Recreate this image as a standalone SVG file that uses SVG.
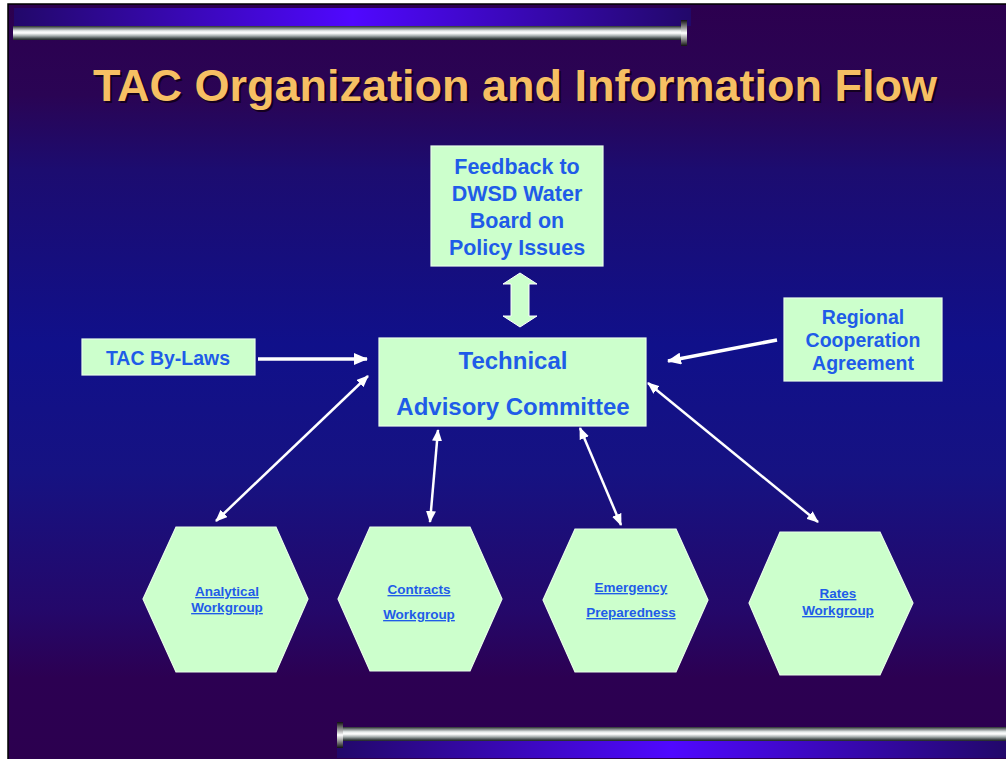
<svg xmlns="http://www.w3.org/2000/svg" width="1006" height="759" viewBox="0 0 1006 759">
<defs>
<linearGradient id="bg" x1="0" y1="0" x2="0" y2="1">
<stop offset="0" stop-color="#2c004f"/>
<stop offset="0.12" stop-color="#2a0454"/>
<stop offset="0.22" stop-color="#1c0c70"/>
<stop offset="0.45" stop-color="#10108a"/>
<stop offset="0.62" stop-color="#161282"/>
<stop offset="0.80" stop-color="#24086a"/>
<stop offset="0.89" stop-color="#2c0052"/>
<stop offset="1" stop-color="#2c004f"/>
</linearGradient>
<linearGradient id="glow" x1="0" y1="0" x2="1" y2="0">
<stop offset="0" stop-color="#22086a"/>
<stop offset="0.5" stop-color="#5008ff"/>
<stop offset="1" stop-color="#22086a"/>
</linearGradient>
<linearGradient id="bar" x1="0" y1="0" x2="0" y2="1">
<stop offset="0" stop-color="#2a3030"/>
<stop offset="0.15" stop-color="#7a8282"/>
<stop offset="0.35" stop-color="#e8ecec"/>
<stop offset="0.5" stop-color="#ffffff"/>
<stop offset="0.7" stop-color="#a8b0b0"/>
<stop offset="0.88" stop-color="#4a5252"/>
<stop offset="1" stop-color="#1e2424"/>
</linearGradient>
<linearGradient id="cap" x1="0" y1="0" x2="0" y2="1">
<stop offset="0" stop-color="#111"/>
<stop offset="0.3" stop-color="#999"/>
<stop offset="0.5" stop-color="#fff"/>
<stop offset="0.75" stop-color="#888"/>
<stop offset="1" stop-color="#111"/>
</linearGradient>
<marker id="ah" markerUnits="userSpaceOnUse" markerWidth="14" markerHeight="12" viewBox="0 0 14 12" refX="13" refY="6" orient="auto-start-reverse">
<path d="M0,0 L14,6 L0,12 Z" fill="#ffffff"/>
</marker>
<marker id="ahs" markerUnits="userSpaceOnUse" markerWidth="12" markerHeight="10" viewBox="0 0 12 10" refX="11" refY="5" orient="auto-start-reverse">
<path d="M0,0 L12,5 L0,10 Z" fill="#ffffff"/>
</marker>
</defs>
<style>
.box{fill:#ccffcc;stroke:#e8ffe8;stroke-width:1.2}
.bt{font-family:"Liberation Sans",Arial,sans-serif;font-weight:bold;fill:#1f5ce8;text-anchor:middle}
.ht{font-family:"Liberation Sans",Arial,sans-serif;font-weight:bold;fill:#1f5ce8;text-anchor:middle;font-size:13.5px;text-decoration:underline}
.ar{stroke:#ffffff;stroke-width:3.5;fill:none}
.dar{stroke:#ffffff;stroke-width:2.5;fill:none}
</style>
<rect x="0" y="0" width="1006" height="759" fill="#ffffff"/>
<rect x="8" y="4" width="1000" height="757" fill="url(#bg)" stroke="#000000" stroke-width="1.5"/>
<g id="decor">
<rect x="14" y="8" width="677" height="18" fill="url(#glow)"/>
<rect x="13" y="26" width="669" height="14" fill="url(#bar)"/>
<rect x="681" y="20" width="6" height="26" fill="url(#cap)"/>
<rect x="337" y="741" width="669" height="17" fill="url(#glow)"/>
<rect x="341" y="727" width="665" height="14" fill="url(#bar)"/>
<rect x="337" y="722" width="6" height="26" fill="url(#cap)"/>
</g>
<g id="title">
<text x="517" y="103" font-family="Liberation Sans, Arial, sans-serif" font-weight="bold" font-size="45" text-anchor="middle" fill="#140020">TAC Organization and Information Flow</text>
<text x="515" y="101" font-family="Liberation Sans, Arial, sans-serif" font-weight="bold" font-size="45" text-anchor="middle" fill="#f6bf63">TAC Organization and Information Flow</text>
</g>
<g id="connectors">
<path d="M511,284 L503,284 L520,273 L537,284 L529,284 L529,316 L537,316 L520,327 L503,316 L511,316 Z" fill="#ccffcc" stroke="#ffffff" stroke-width="1"/>
<line class="ar" x1="258" y1="359" x2="367" y2="359" marker-end="url(#ah)"/>
<line class="ar" x1="777" y1="340" x2="668" y2="361" marker-end="url(#ah)"/>
<line class="dar" x1="368" y1="376" x2="216" y2="521" marker-start="url(#ahs)" marker-end="url(#ahs)"/>
<line class="dar" x1="438" y1="430" x2="430" y2="522" marker-start="url(#ahs)" marker-end="url(#ahs)"/>
<line class="dar" x1="580" y1="428" x2="621" y2="525" marker-start="url(#ahs)" marker-end="url(#ahs)"/>
<line class="dar" x1="648" y1="383" x2="818" y2="522" marker-start="url(#ahs)" marker-end="url(#ahs)"/>
</g>
<g id="feedback">
<rect class="box" x="431" y="146" width="172" height="120"/>
<text class="bt" font-size="21.5" x="517" y="174">Feedback to</text>
<text class="bt" font-size="21.5" x="517" y="201">DWSD Water</text>
<text class="bt" font-size="21.5" x="517" y="228">Board on</text>
<text class="bt" font-size="21.5" x="517" y="255">Policy Issues</text>
</g>
<g id="bylaws">
<rect class="box" x="82" y="339" width="173" height="36"/>
<text class="bt" font-size="19.5" x="168" y="365">TAC By-Laws</text>
</g>
<g id="tac">
<rect class="box" x="379" y="338" width="267" height="88"/>
<text class="bt" font-size="24" x="513" y="369">Technical</text>
<text class="bt" font-size="24" x="513" y="415">Advisory Committee</text>
</g>
<g id="regional">
<rect class="box" x="784" y="298" width="158" height="83"/>
<text class="bt" font-size="19.5" x="863" y="324">Regional</text>
<text class="bt" font-size="19.5" x="863" y="347">Cooperation</text>
<text class="bt" font-size="19.5" x="863" y="370">Agreement</text>
</g>
<g id="analytical">
<polygon class="box" points="176,527 276,527 308,599 276,672 176,672 143,599"/>
<text class="ht" x="227" y="596">Analytical</text>
<text class="ht" x="227" y="612">Workgroup</text>
</g>
<g id="contracts">
<polygon class="box" points="370,527 470,527 502,599 470,671 370,671 338,599"/>
<text class="ht" x="419" y="594">Contracts</text>
<text class="ht" x="419" y="619">Workgroup</text>
</g>
<g id="emergency">
<polygon class="box" points="575,529 676,529 708,600 676,672 575,672 543,600"/>
<text class="ht" x="631" y="592">Emergency</text>
<text class="ht" x="631" y="617">Preparedness</text>
</g>
<g id="rates">
<polygon class="box" points="780,532 880,532 913,603 880,675 780,675 749,603"/>
<text class="ht" x="838" y="598">Rates</text>
<text class="ht" x="838" y="615">Workgroup</text>
</g>
</svg>
